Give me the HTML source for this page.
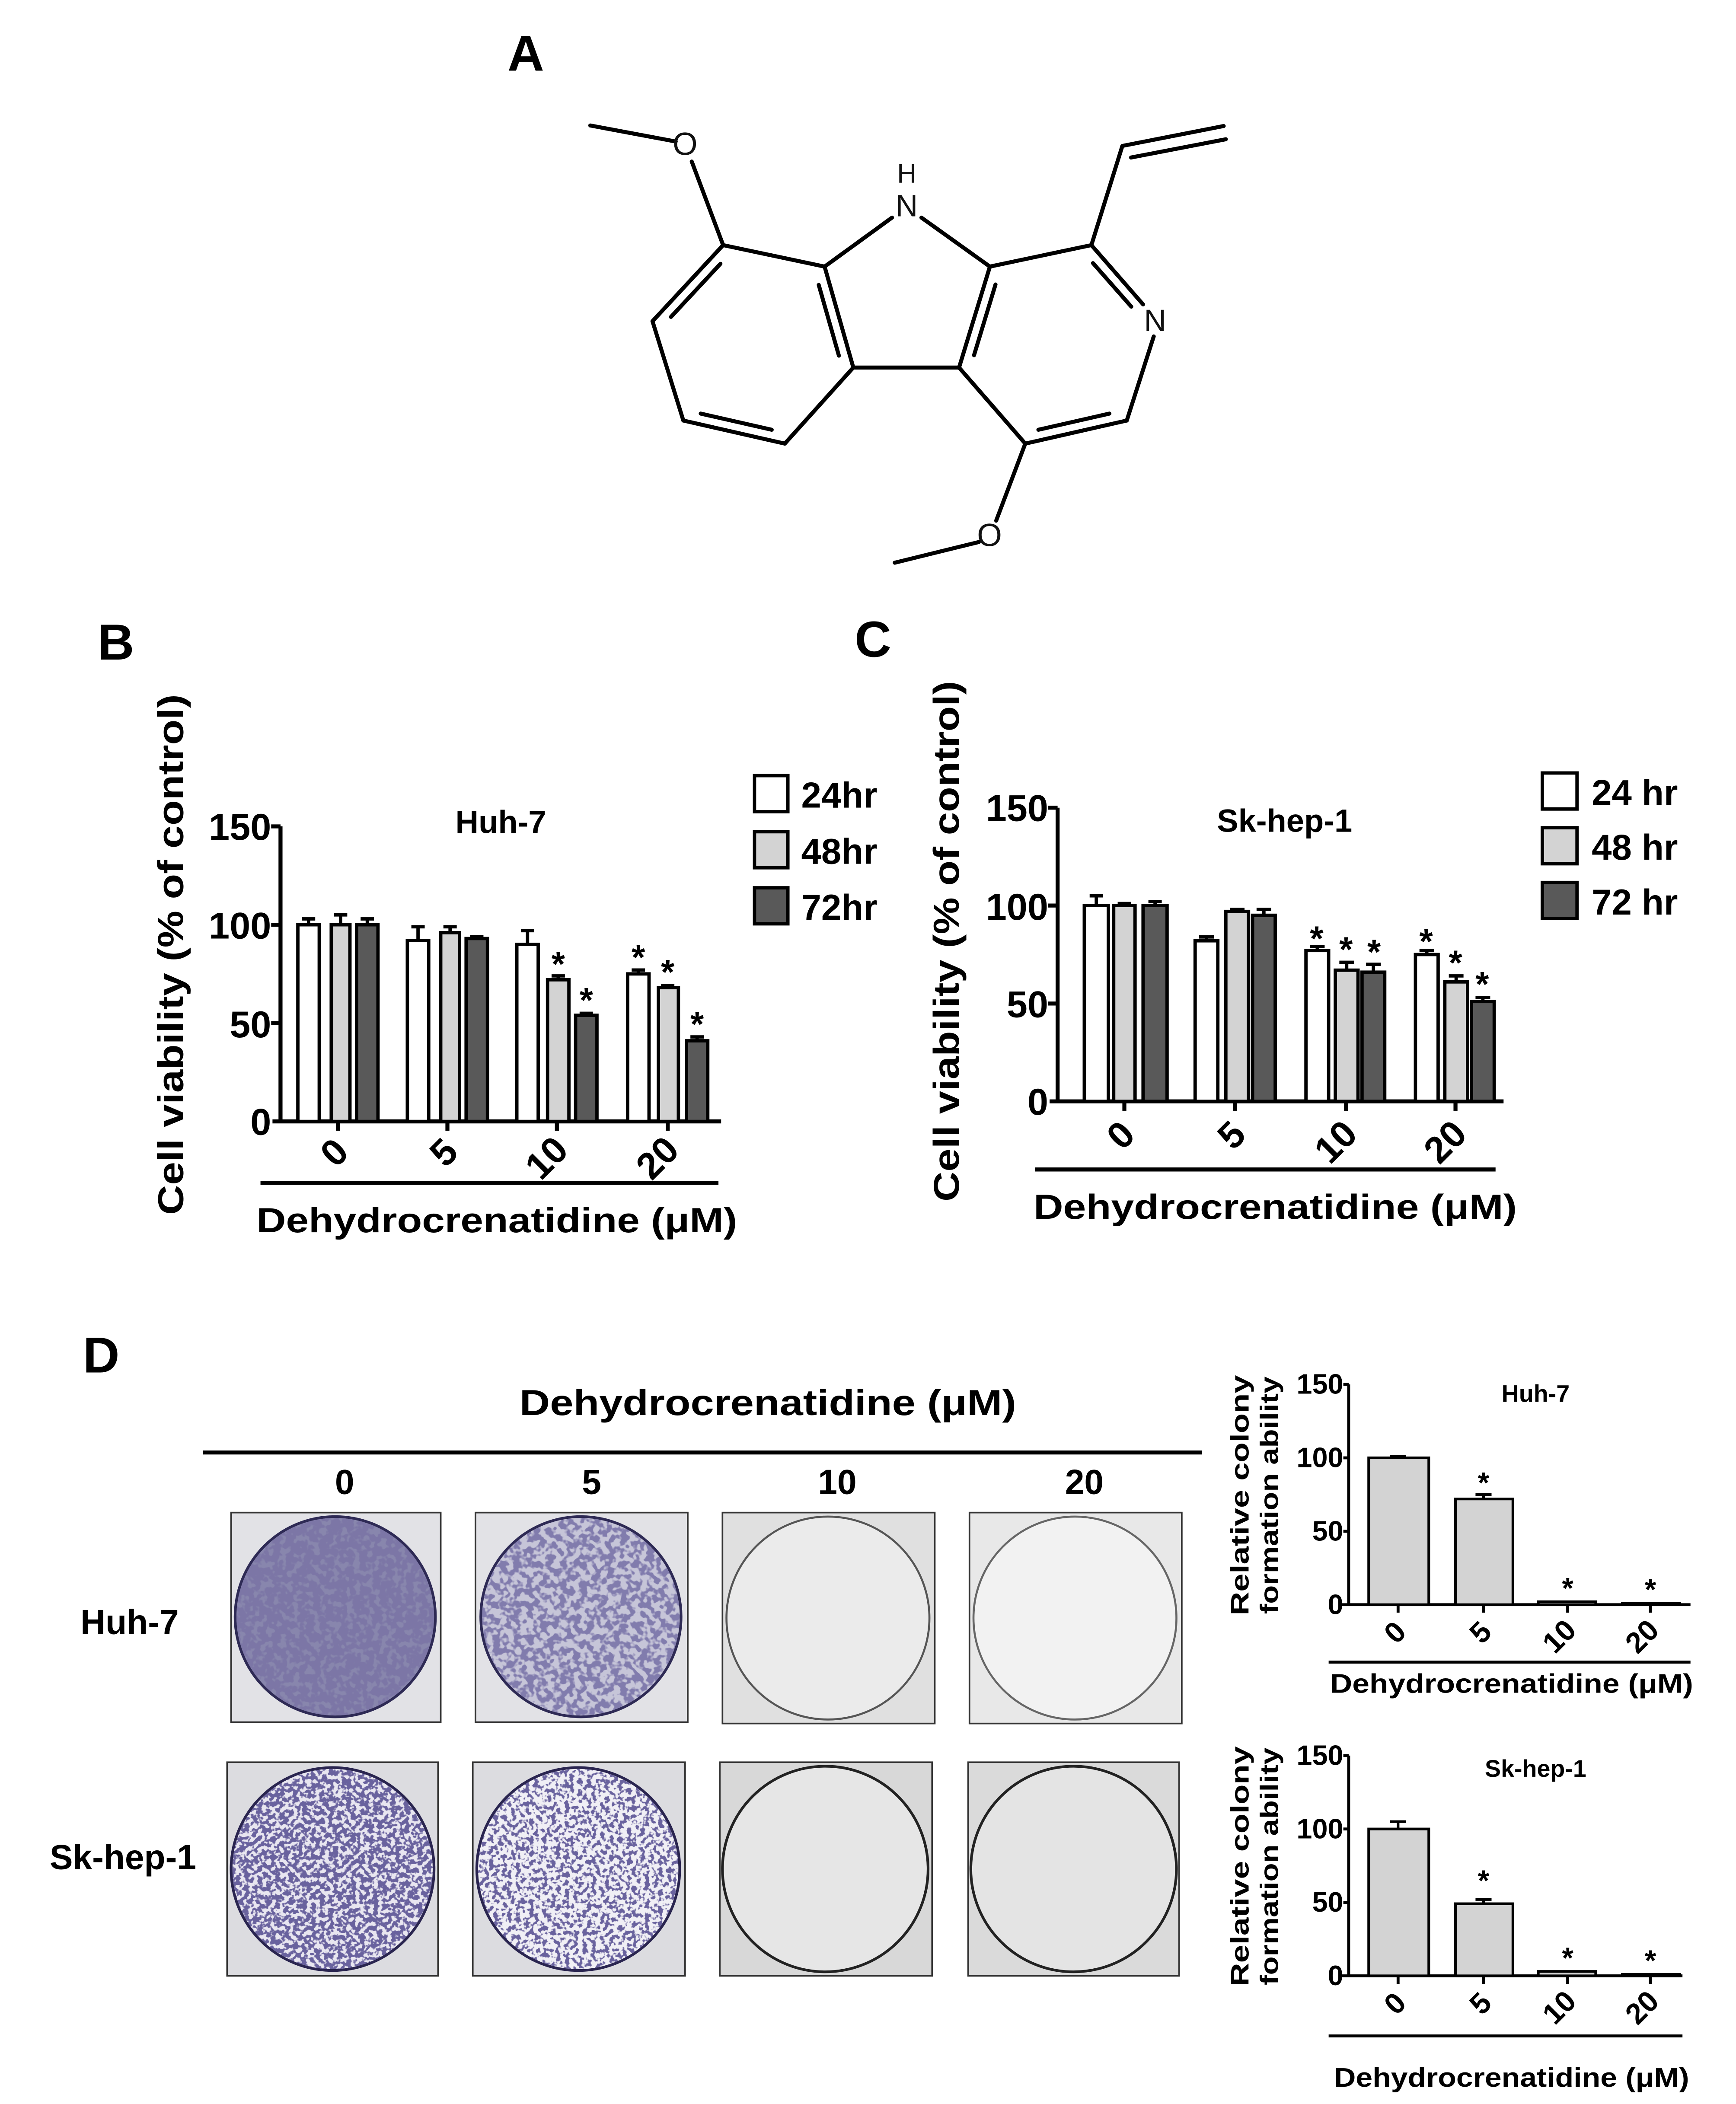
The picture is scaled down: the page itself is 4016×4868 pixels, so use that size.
<!DOCTYPE html>
<html><head><meta charset="utf-8"><style>
html,body{margin:0;padding:0;background:#fff;}
svg{display:block;}
text{font-family:"Liberation Sans",Arial,sans-serif;font-weight:bold;fill:#000;}
.m{font-weight:normal;fill:#111;}
</style></head><body>
<svg width="4016" height="4868" viewBox="0 0 1300 1576" xmlns="http://www.w3.org/2000/svg">
<defs>
<filter id="d1" x="0" y="0" width="1" height="1"><feTurbulence type="fractalNoise" baseFrequency="0.2" numOctaves="2" seed="3" result="n"/><feColorMatrix in="n" type="matrix" values="0 0 0 0 0.2 0 0 0 0 0.18 0 0 0 0 0.38 9 0 0 0 -3.4" result="c"/><feComposite in="c" in2="SourceGraphic" operator="in"/></filter>
<filter id="d2" x="0" y="0" width="1" height="1"><feTurbulence type="fractalNoise" baseFrequency="0.2" numOctaves="2" seed="7" result="n"/><feColorMatrix in="n" type="matrix" values="0 0 0 0 0.22 0 0 0 0 0.2 0 0 0 0 0.42 9 0 0 0 -4.0" result="c"/><feComposite in="c" in2="SourceGraphic" operator="in"/></filter>
<filter id="d3" x="0" y="0" width="1" height="1"><feTurbulence type="fractalNoise" baseFrequency="0.3" numOctaves="2" seed="11" result="n"/><feColorMatrix in="n" type="matrix" values="0 0 0 0 0.14 0 0 0 0 0.12 0 0 0 0 0.34 11 0 0 0 -4.8" result="c"/><feComposite in="c" in2="SourceGraphic" operator="in"/></filter>
<filter id="d4" x="0" y="0" width="1" height="1"><feTurbulence type="fractalNoise" baseFrequency="0.3" numOctaves="2" seed="17" result="n"/><feColorMatrix in="n" type="matrix" values="0 0 0 0 0.14 0 0 0 0 0.12 0 0 0 0 0.34 11 0 0 0 -5.4" result="c"/><feComposite in="c" in2="SourceGraphic" operator="in"/></filter>
</defs>

<!-- A -->
<text x="380" y="53" font-size="38">A</text>
<g stroke="#000" stroke-width="3" fill="none" stroke-linecap="round">
<line x1="442" y1="94" x2="506" y2="106"/>
<line x1="518" y1="121" x2="541.5" y2="183.6"/>
<line x1="541.5" y1="183.6" x2="488.6" y2="240.6"/>
<line x1="488.6" y1="240.6" x2="511.7" y2="315"/>
<line x1="511.7" y1="315" x2="587.7" y2="332.3"/>
<line x1="587.7" y1="332.3" x2="639" y2="275.3"/>
<line x1="639" y1="275.3" x2="617.5" y2="199.7"/>
<line x1="617.5" y1="199.7" x2="541.5" y2="183.6"/>
<line x1="617.5" y1="199.7" x2="668" y2="163"/>
<line x1="690" y1="163" x2="741.3" y2="199.7"/>
<line x1="741.3" y1="199.7" x2="718.2" y2="275.3"/>
<line x1="718.2" y1="275.3" x2="639" y2="275.3"/>
<line x1="741.3" y1="199.7" x2="817.3" y2="183.6"/>
<line x1="817.3" y1="183.6" x2="856" y2="228"/>
<line x1="864" y1="252" x2="843.8" y2="315"/>
<line x1="843.8" y1="315" x2="767.8" y2="332.3"/>
<line x1="767.8" y1="332.3" x2="718.2" y2="275.3"/>
<line x1="767.8" y1="332.3" x2="746" y2="390"/>
<line x1="733" y1="406" x2="670" y2="421.5"/>
<line x1="817.3" y1="183.6" x2="840.5" y2="109.3"/>
<line x1="840.5" y1="109.3" x2="916.4" y2="94.4"/>
<line x1="847" y1="118" x2="918" y2="104.3"/>
<line x1="539.5" y1="197.6" x2="502.4" y2="237.4"/>
<line x1="524.7" y1="309.8" x2="577.9" y2="321.9"/>
<line x1="613.1" y1="213.4" x2="628.2" y2="266.4"/>
<line x1="745.5" y1="213.1" x2="729.4" y2="266.1"/>
<line x1="818.5" y1="197.1" x2="847.2" y2="229.7"/>
<line x1="830.8" y1="309.8" x2="777.6" y2="321.9"/>
</g>
<text class="m" x="513" y="116" font-size="24" text-anchor="middle">O</text>
<text class="m" x="679" y="137" font-size="20" text-anchor="middle">H</text>
<text class="m" x="679" y="162" font-size="23" text-anchor="middle">N</text>
<text class="m" x="865" y="248" font-size="23" text-anchor="middle">N</text>
<text class="m" x="741" y="409" font-size="24" text-anchor="middle">O</text>

<!-- B -->
<text x="73" y="494" font-size="38">B</text>
<text x="375" y="624" font-size="24" text-anchor="middle">Huh-7</text>
<text transform="translate(137,715) rotate(-90)" font-size="27" text-anchor="middle" textLength="390" lengthAdjust="spacingAndGlyphs">Cell viability (% of control)</text>
<g stroke="#000" stroke-width="3" fill="none">
<line x1="210" y1="619" x2="210" y2="841"/>
<line x1="204" y1="840" x2="540" y2="840"/>
<line x1="203" y1="619" x2="210" y2="619"/><line x1="203" y1="692.7" x2="210" y2="692.7"/><line x1="203" y1="766.4" x2="210" y2="766.4"/>
<line x1="253" y1="840" x2="253" y2="847"/><line x1="335" y1="840" x2="335" y2="847"/><line x1="417" y1="840" x2="417" y2="847"/><line x1="500" y1="840" x2="500" y2="847"/>
<line x1="195" y1="886" x2="538" y2="886"/>
</g>
<g font-size="28" text-anchor="end">
<text x="203" y="629">150</text><text x="203" y="703">100</text><text x="203" y="777">50</text><text x="203" y="850">0</text>
</g>
<g stroke="#000" stroke-width="2.5">
<rect x="223" y="692.7" width="16" height="147.3" fill="#fff"/>
<rect x="248" y="692.7" width="14" height="147.3" fill="#d3d3d3"/>
<rect x="267" y="692.7" width="16" height="147.3" fill="#595959"/>
<rect x="305" y="704.5" width="16" height="135.5" fill="#fff"/>
<rect x="330" y="698.6" width="14" height="141.4" fill="#d3d3d3"/>
<rect x="349" y="703" width="16" height="137" fill="#595959"/>
<rect x="387" y="707.4" width="16" height="132.6" fill="#fff"/>
<rect x="410" y="733.9" width="16" height="106.1" fill="#d3d3d3"/>
<rect x="431" y="760.5" width="16" height="79.5" fill="#595959"/>
<rect x="470" y="729.5" width="16" height="110.5" fill="#fff"/>
<rect x="493" y="739.8" width="15" height="100.2" fill="#d3d3d3"/>
<rect x="514" y="779.6" width="16" height="60.4" fill="#595959"/>
</g>
<g stroke="#000" stroke-width="2.5">
<path d="M231 692.7V688.3M226 688.3H236M255 692.7V685.3M250 685.3H260M275 692.7V688.3M270 688.3H280"/>
<path d="M313 704.5V694.2M308 694.2H318M337 698.6V694.2M332 694.2H342M357 703V701.5M352 701.5H362"/>
<path d="M395 707.4V697.1M390 697.1H400M418 733.9V731M413 731H423M439 760.5V759M434 759H444"/>
<path d="M478 729.5V726.6M473 726.6H483M500 739.8V738.4M495 738.4H505M522 779.6V776.7M517 776.7H527"/>
</g>
<g font-size="26" text-anchor="middle">
<text x="418" y="731">*</text><text x="439" y="758">*</text><text x="478" y="726">*</text><text x="500" y="737">*</text><text x="522" y="776">*</text>
</g>
<g font-size="28" text-anchor="middle">
<text transform="translate(257,870) rotate(-45)">0</text>
<text transform="translate(339,870) rotate(-45)">5</text>
<text transform="translate(416,874) rotate(-45)">10</text>
<text transform="translate(499,874) rotate(-45)">20</text>
</g>
<text x="372" y="923" font-size="26" text-anchor="middle" textLength="360" lengthAdjust="spacingAndGlyphs">Dehydrocrenatidine (μM)</text>
<g stroke="#000" stroke-width="2.5"><rect x="565" y="581" width="25" height="27" fill="#fff"/><rect x="565" y="623" width="25" height="27" fill="#d3d3d3"/><rect x="565" y="665" width="25" height="27" fill="#595959"/></g>
<g font-size="27"><text x="600" y="605">24hr</text><text x="600" y="647">48hr</text><text x="600" y="689">72hr</text></g>

<!-- C -->
<text x="640" y="492" font-size="38">C</text>
<text x="962" y="623" font-size="24" text-anchor="middle">Sk-hep-1</text>
<text transform="translate(718,705) rotate(-90)" font-size="27" text-anchor="middle" textLength="390" lengthAdjust="spacingAndGlyphs">Cell viability (% of control)</text>
<g stroke="#000" stroke-width="3" fill="none">
<line x1="792" y1="605" x2="792" y2="826"/>
<line x1="786" y1="825" x2="1126" y2="825"/>
<line x1="785" y1="605" x2="792" y2="605"/><line x1="785" y1="678.3" x2="792" y2="678.3"/><line x1="785" y1="751.7" x2="792" y2="751.7"/>
<line x1="842" y1="825" x2="842" y2="832"/><line x1="925" y1="825" x2="925" y2="832"/><line x1="1008" y1="825" x2="1008" y2="832"/><line x1="1090" y1="825" x2="1090" y2="832"/>
<line x1="775" y1="876" x2="1120" y2="876"/>
</g>
<g font-size="28" text-anchor="end">
<text x="785" y="615">150</text><text x="785" y="689">100</text><text x="785" y="762">50</text><text x="785" y="835">0</text>
</g>
<g stroke="#000" stroke-width="2.5">
<rect x="812" y="678.3" width="18" height="146.7" fill="#fff"/>
<rect x="834" y="678.3" width="16" height="146.7" fill="#d3d3d3"/>
<rect x="856" y="678.3" width="18" height="146.7" fill="#595959"/>
<rect x="895" y="704.7" width="17" height="120.3" fill="#fff"/>
<rect x="918" y="682.7" width="17" height="142.3" fill="#d3d3d3"/>
<rect x="938" y="685.6" width="17" height="139.4" fill="#595959"/>
<rect x="978" y="712" width="17" height="113" fill="#fff"/>
<rect x="1000" y="726.7" width="17" height="98.3" fill="#d3d3d3"/>
<rect x="1020" y="728.2" width="17" height="96.8" fill="#595959"/>
<rect x="1060" y="715" width="17" height="110" fill="#fff"/>
<rect x="1082" y="735.5" width="17" height="89.5" fill="#d3d3d3"/>
<rect x="1102" y="750.2" width="17" height="74.8" fill="#595959"/>
</g>
<g stroke="#000" stroke-width="2.5">
<path d="M821 678.3V671M816 671H826M842 678.3V676.8M837 676.8H847M865 678.3V675.4M860 675.4H870"/>
<path d="M903.5 704.7V701.8M898 701.8H909M926.5 682.7V681.2M921 681.2H932M946.5 685.6V681.2M941 681.2H952"/>
<path d="M986.5 712V709M981 709H992M1008.5 726.7V720.8M1003 720.8H1014M1028.5 728.2V722.3M1023 722.3H1034"/>
<path d="M1068.5 715V712M1063 712H1074M1090.5 735.5V731M1085 731H1096M1110.5 750.2V747.2M1105 747.2H1116"/>
</g>
<g font-size="26" text-anchor="middle">
<text x="986" y="712">*</text><text x="1008" y="720">*</text><text x="1029" y="722">*</text><text x="1068" y="714">*</text><text x="1090" y="730">*</text><text x="1110" y="746">*</text>
</g>
<g font-size="28" text-anchor="middle">
<text transform="translate(846,857) rotate(-45)">0</text>
<text transform="translate(929,857) rotate(-45)">5</text>
<text transform="translate(1007,862) rotate(-45)">10</text>
<text transform="translate(1089,862) rotate(-45)">20</text>
</g>
<text x="955" y="913" font-size="26" text-anchor="middle" textLength="362" lengthAdjust="spacingAndGlyphs">Dehydrocrenatidine (μM)</text>
<g stroke="#000" stroke-width="2.5"><rect x="1155" y="579" width="26" height="27" fill="#fff"/><rect x="1155" y="620" width="26" height="27" fill="#d3d3d3"/><rect x="1155" y="661" width="26" height="27" fill="#595959"/></g>
<g font-size="27"><text x="1192" y="603">24 hr</text><text x="1192" y="644">48 hr</text><text x="1192" y="685">72 hr</text></g>

<!-- D -->
<text x="62" y="1028" font-size="38">D</text>
<text x="575" y="1060" font-size="27" text-anchor="middle" textLength="372" lengthAdjust="spacingAndGlyphs">Dehydrocrenatidine (μM)</text>
<line x1="152" y1="1088" x2="900" y2="1088" stroke="#000" stroke-width="3"/>
<g font-size="26" text-anchor="middle"><text x="258" y="1119">0</text><text x="443" y="1119">5</text><text x="627" y="1119">10</text><text x="812" y="1119">20</text></g>
<text x="97" y="1224" font-size="26" text-anchor="middle">Huh-7</text>
<text x="92" y="1400" font-size="26" text-anchor="middle">Sk-hep-1</text>

<g stroke="#333" stroke-width="1.2">
<rect x="173" y="1133" width="157" height="157" fill="#e2e2e6"/>
<rect x="356" y="1133" width="159" height="157" fill="#e2e2e6"/>
<rect x="541" y="1133" width="159" height="158" fill="#e0e0e0"/>
<rect x="726" y="1133" width="159" height="158" fill="#e8e8e8"/>
<rect x="170" y="1320" width="158" height="160" fill="#dcdce0"/>
<rect x="354" y="1320" width="159" height="160" fill="#dcdce0"/>
<rect x="539" y="1320" width="159" height="160" fill="#d8d8d8"/>
<rect x="725" y="1320" width="158" height="160" fill="#dadada"/>
</g>
<circle cx="251" cy="1211" r="75" fill="#8886ad" stroke="#2e2a55" stroke-width="2"/>
<circle cx="251" cy="1211" r="74" fill="#000" filter="url(#d1)"/>
<circle cx="435" cy="1211" r="75" fill="#c6c5d8" stroke="#2e2a55" stroke-width="2"/>
<circle cx="435" cy="1211" r="74" fill="#000" filter="url(#d2)"/>
<circle cx="620" cy="1212" r="76" fill="#ebebeb" stroke="#555" stroke-width="1.5"/>
<circle cx="805" cy="1212" r="76" fill="#f2f2f2" stroke="#666" stroke-width="1.5"/>
<circle cx="249" cy="1400" r="76" fill="#e8e6f0" stroke="#2a2550" stroke-width="2"/>
<circle cx="249" cy="1400" r="75" fill="#000" filter="url(#d3)"/>
<circle cx="433" cy="1400" r="76" fill="#f0eff5" stroke="#2a2550" stroke-width="2"/>
<circle cx="433" cy="1400" r="75" fill="#000" filter="url(#d4)"/>
<circle cx="618" cy="1400" r="77" fill="#e6e6e6" stroke="#222" stroke-width="2"/>
<circle cx="804" cy="1400" r="77" fill="#e4e4e4" stroke="#222" stroke-width="2"/>

<!-- D small charts -->
<g font-size="19" text-anchor="middle">
<text transform="translate(935,1120) rotate(-90)" textLength="180" lengthAdjust="spacingAndGlyphs">Relative colony</text>
<text transform="translate(957,1120) rotate(-90)" textLength="178" lengthAdjust="spacingAndGlyphs">formation ability</text>
<text transform="translate(935,1398) rotate(-90)" textLength="180" lengthAdjust="spacingAndGlyphs">Relative colony</text>
<text transform="translate(957,1398) rotate(-90)" textLength="178" lengthAdjust="spacingAndGlyphs">formation ability</text>
</g>
<text x="1150" y="1050" font-size="18" text-anchor="middle">Huh-7</text>
<text x="1150" y="1331" font-size="18" text-anchor="middle">Sk-hep-1</text>
<g font-size="21" text-anchor="end">
<text x="1006" y="1044">150</text><text x="1006" y="1099">100</text><text x="1006" y="1154">50</text><text x="1006" y="1209">0</text>
<text x="1006" y="1322">150</text><text x="1006" y="1377">100</text><text x="1006" y="1432">50</text><text x="1006" y="1487">0</text>
</g>
<g stroke="#000" stroke-width="2.2" fill="none">
<line x1="1010" y1="1037" x2="1010" y2="1203"/><line x1="1005" y1="1202" x2="1266" y2="1202"/>
<line x1="1006" y1="1037" x2="1010" y2="1037"/><line x1="1006" y1="1092" x2="1010" y2="1092"/><line x1="1006" y1="1147" x2="1010" y2="1147"/>
<line x1="1047" y1="1202" x2="1047" y2="1208"/><line x1="1111" y1="1202" x2="1111" y2="1208"/><line x1="1174" y1="1202" x2="1174" y2="1208"/><line x1="1236" y1="1202" x2="1236" y2="1208"/>
<line x1="995" y1="1245" x2="1266" y2="1245"/>
<line x1="1010" y1="1315" x2="1010" y2="1481"/><line x1="1005" y1="1480" x2="1260" y2="1480"/>
<line x1="1006" y1="1315" x2="1010" y2="1315"/><line x1="1006" y1="1370" x2="1010" y2="1370"/><line x1="1006" y1="1425" x2="1010" y2="1425"/>
<line x1="1047" y1="1480" x2="1047" y2="1486"/><line x1="1111" y1="1480" x2="1111" y2="1486"/><line x1="1174" y1="1480" x2="1174" y2="1486"/><line x1="1236" y1="1480" x2="1236" y2="1486"/>
<line x1="995" y1="1525" x2="1260" y2="1525"/>
</g>
<g stroke="#000" stroke-width="2" fill="#d3d3d3">
<rect x="1025" y="1092" width="45" height="110"/>
<rect x="1090" y="1122.8" width="43" height="79.2"/>
<rect x="1152" y="1199.8" width="43" height="2.2"/>
<rect x="1215" y="1200.9" width="43" height="1.1"/>
<rect x="1025" y="1370" width="45" height="110"/>
<rect x="1090" y="1426" width="43" height="54"/>
<rect x="1152" y="1476.7" width="43" height="3.3"/>
<rect x="1215" y="1478.9" width="43" height="1.1"/>
</g>
<g stroke="#000" stroke-width="2"><path d="M1047 1092V1091M1041 1091H1053M1111 1122.8V1119.5M1105 1119.5H1117M1047 1370V1364.5M1041 1364.5H1053M1111 1426V1422.8M1105 1422.8H1117"/></g>
<g font-size="22" text-anchor="middle">
<text x="1111" y="1118">*</text><text x="1174" y="1197">*</text><text x="1236" y="1198">*</text>
<text x="1111" y="1416">*</text><text x="1174" y="1474">*</text><text x="1236" y="1476">*</text>
</g>
<g font-size="22" text-anchor="middle">
<text transform="translate(1050,1228) rotate(-45)">0</text>
<text transform="translate(1114,1228) rotate(-45)">5</text>
<text transform="translate(1173,1231) rotate(-45)">10</text>
<text transform="translate(1235,1231) rotate(-45)">20</text>
<text transform="translate(1050,1506) rotate(-45)">0</text>
<text transform="translate(1114,1506) rotate(-45)">5</text>
<text transform="translate(1173,1509) rotate(-45)">10</text>
<text transform="translate(1235,1509) rotate(-45)">20</text>
</g>
<text x="1132" y="1268" font-size="20" text-anchor="middle" textLength="272" lengthAdjust="spacingAndGlyphs">Dehydrocrenatidine (μM)</text>
<text x="1132" y="1563" font-size="20" text-anchor="middle" textLength="266" lengthAdjust="spacingAndGlyphs">Dehydrocrenatidine (μM)</text>
</svg>
</body></html>
